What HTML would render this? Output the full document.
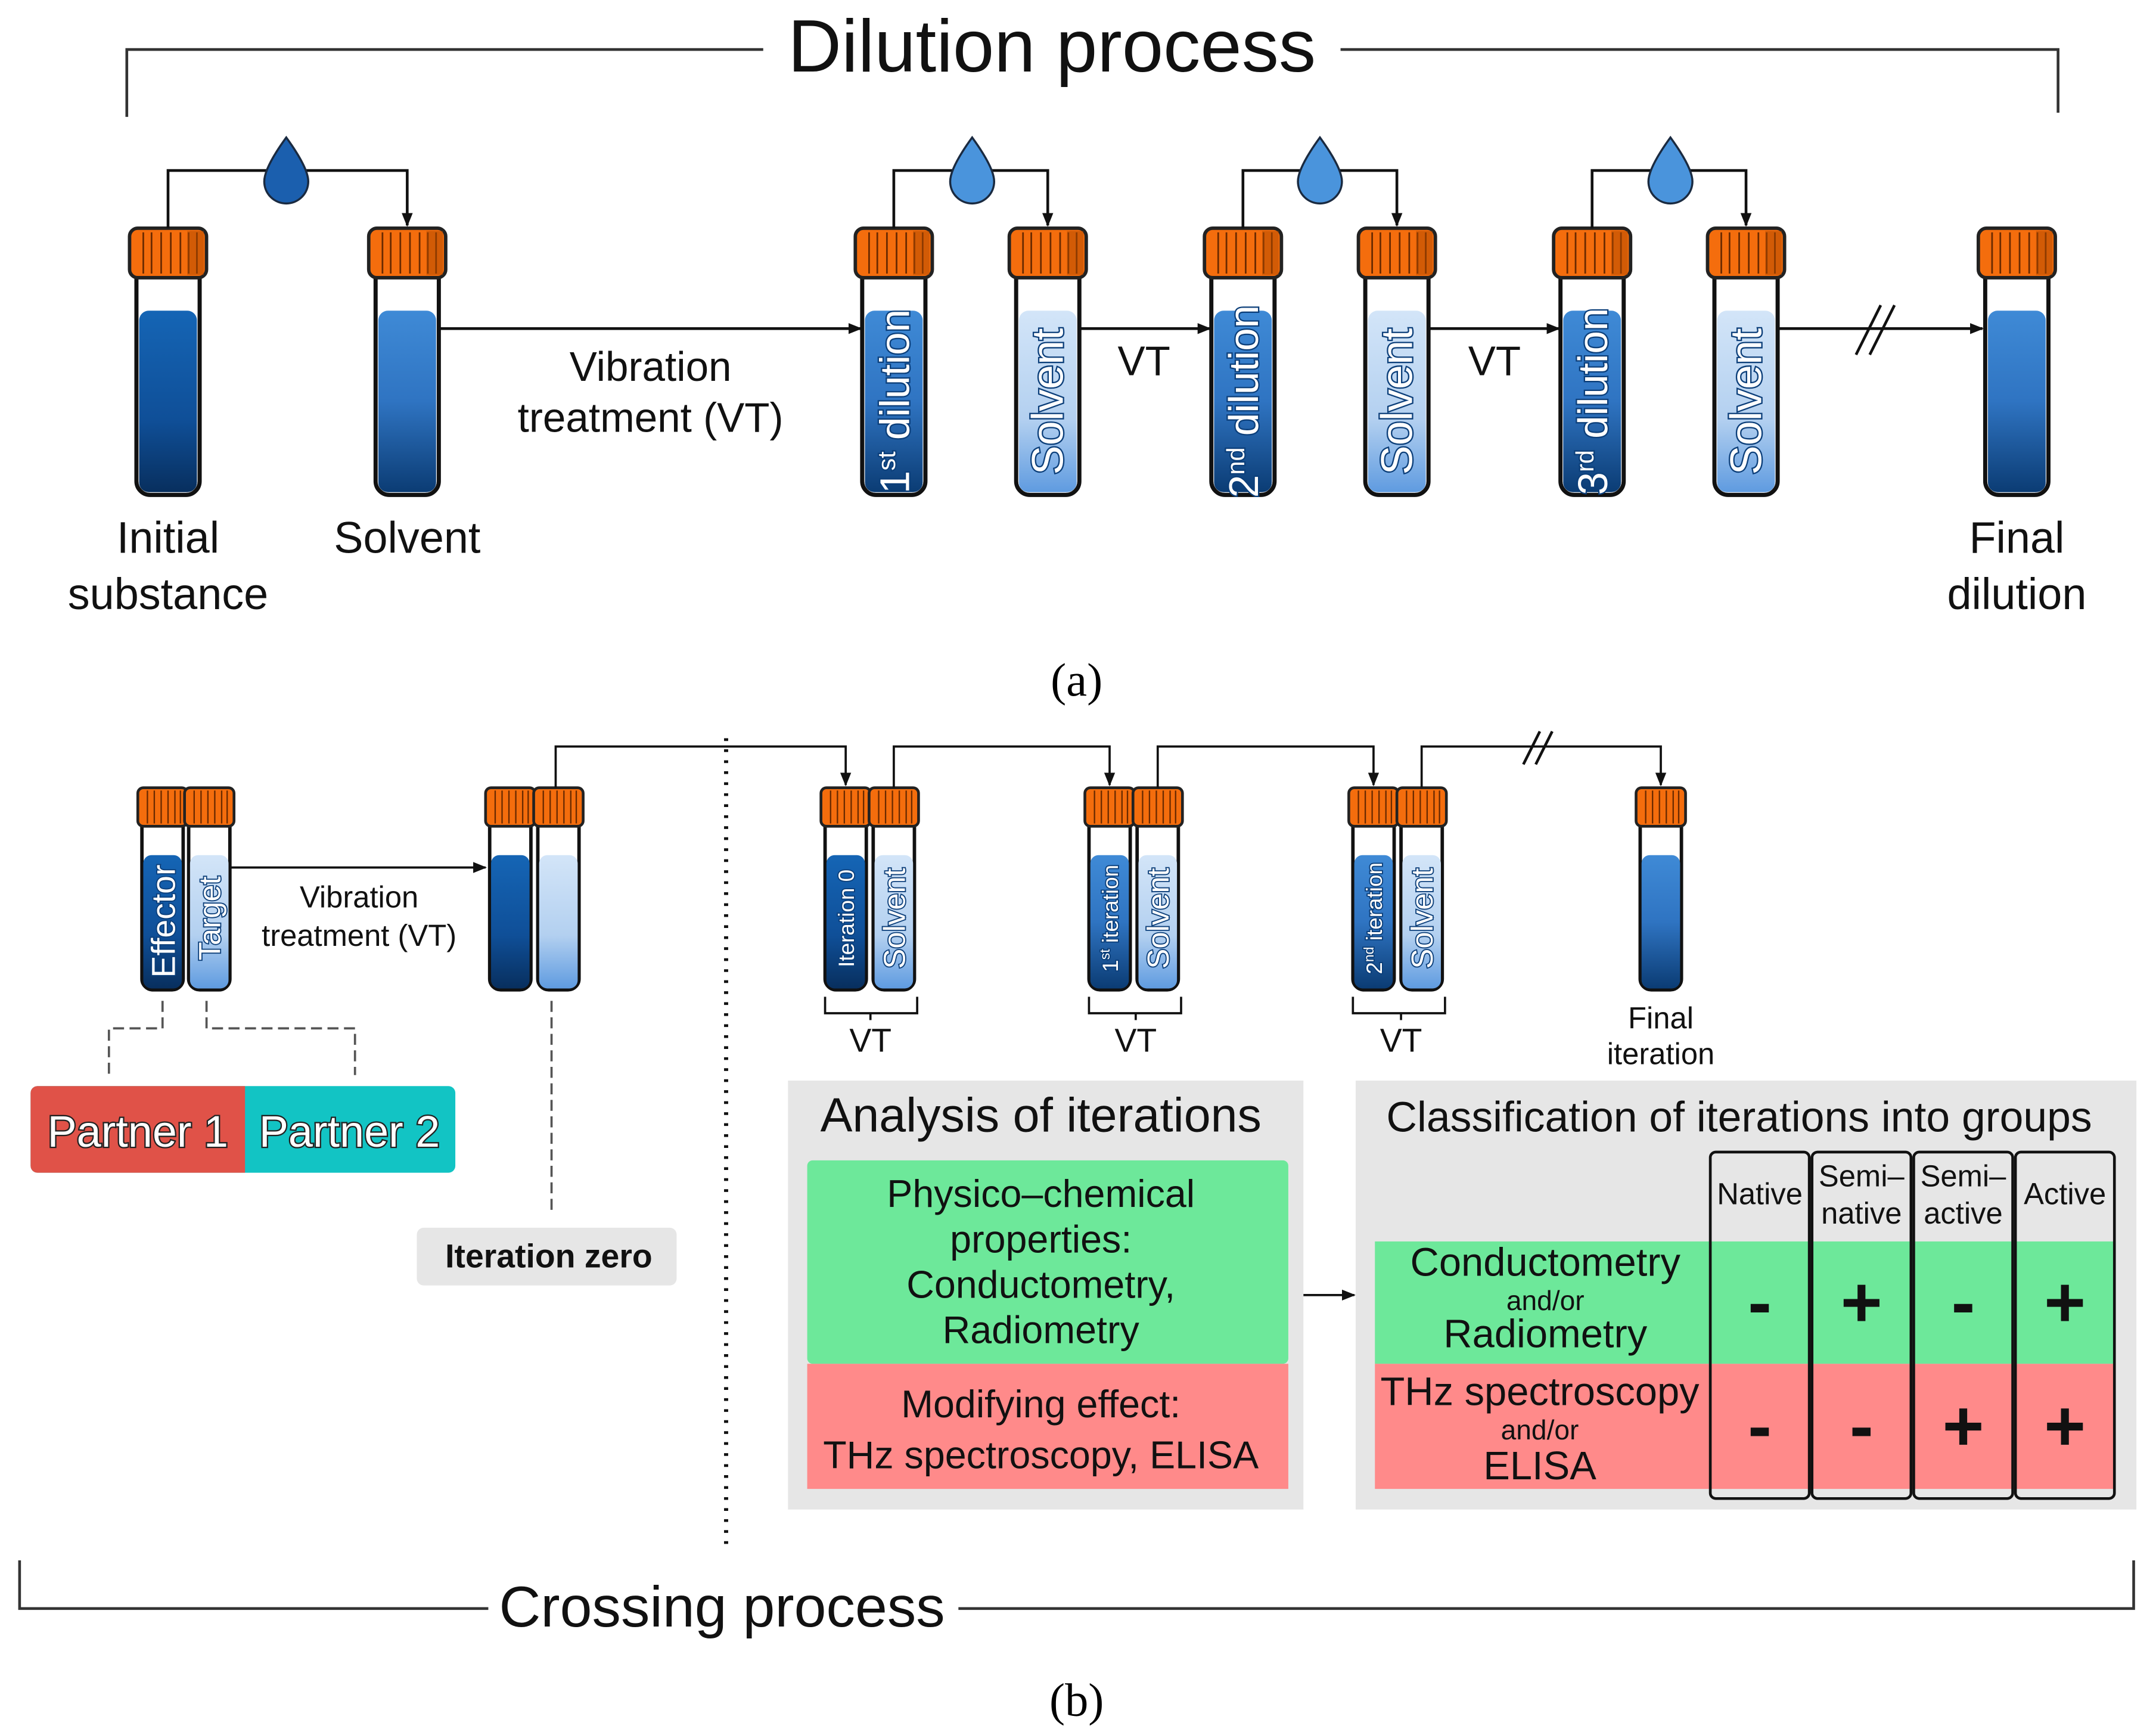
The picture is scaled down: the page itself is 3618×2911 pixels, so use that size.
<!DOCTYPE html>
<html><head><meta charset="utf-8"><style>html,body{margin:0;padding:0;background:#fff}svg{display:block}text{font-family:"Liberation Sans",sans-serif}</style></head><body>
<svg width="3618" height="2911" viewBox="0 0 1568 1262" xmlns="http://www.w3.org/2000/svg">
<defs>
<linearGradient id="dk" x1="0" y1="0" x2="0" y2="1"><stop offset="0" stop-color="#1565b5"/><stop offset="0.6" stop-color="#0f4f98"/><stop offset="1" stop-color="#082f5e"/></linearGradient>
<linearGradient id="lt" x1="0" y1="0" x2="0" y2="1"><stop offset="0" stop-color="#d3e5f8"/><stop offset="0.6" stop-color="#b3d0f0"/><stop offset="1" stop-color="#5f9be0"/></linearGradient>
<linearGradient id="md" x1="0" y1="0" x2="0" y2="1"><stop offset="0" stop-color="#3f8ad6"/><stop offset="0.5" stop-color="#2f74c2"/><stop offset="1" stop-color="#0b3c74"/></linearGradient>
<marker id="ar" markerWidth="10" markerHeight="10" refX="9" refY="5" orient="auto" markerUnits="userSpaceOnUse"><path d="M0,1 L10,5 L0,9 z" fill="#111"/></marker>
<g id="capB"><rect x="-28" y="0" width="56" height="36" rx="6" fill="#f46d0d" stroke="#222" stroke-width="2.5"/><path d="M-18,3V33M-12,3V33M-5,3V33M2,3V33M9,3V33M15,3V33M21,3V33" stroke="#6a2a00" stroke-width="1.2"/><rect x="14" y="2" width="12" height="32" fill="#b04a00" opacity="0.5"/></g>
<g id="capS"><rect x="-18" y="0" width="36" height="28" rx="4" fill="#f46d0d" stroke="#222" stroke-width="2"/><path d="M-11,2V26M-6,2V26M-1,2V26M4,2V26M9,2V26M13,2V26" stroke="#6a2a00" stroke-width="1"/></g>
</defs>
<g stroke="#333" stroke-width="2" fill="none">
<path d="M92,85V36H555M975,36H1497V82"/>
<path d="M14,1135V1170H355M697,1170H1552V1135"/>
</g>
<text x="765" y="52" font-size="54" text-anchor="middle" fill="#111">Dilution process</text>
<text x="525" y="1183" font-size="42" text-anchor="middle" fill="#111">Crossing process</text>
<text x="783" y="506" font-size="34" text-anchor="middle" style="font-family:'Liberation Serif',serif">(a)</text>
<text x="783" y="1248" font-size="34" text-anchor="middle" style="font-family:'Liberation Serif',serif">(b)</text>

<g>
<g transform="translate(122,0)"><path d="M-23,200V350a10,10 0 0 0 10,10H13a10,10 0 0 0 10,-10V200z" fill="#fff" stroke="#111" stroke-width="3"/><rect x="-21" y="226" width="42" height="132" rx="7" fill="url(#dk)"/><use href="#capB" y="166"/></g>
<g transform="translate(296,0)"><path d="M-23,200V350a10,10 0 0 0 10,10H13a10,10 0 0 0 10,-10V200z" fill="#fff" stroke="#111" stroke-width="3"/><rect x="-21" y="226" width="42" height="132" rx="7" fill="url(#md)"/><use href="#capB" y="166"/></g>
<g transform="translate(650,0)"><path d="M-23,200V350a10,10 0 0 0 10,10H13a10,10 0 0 0 10,-10V200z" fill="#fff" stroke="#111" stroke-width="3"/><rect x="-21" y="226" width="42" height="132" rx="7" fill="url(#md)"/><use href="#capB" y="166"/></g>
<g transform="translate(762,0)"><path d="M-23,200V350a10,10 0 0 0 10,10H13a10,10 0 0 0 10,-10V200z" fill="#fff" stroke="#111" stroke-width="3"/><rect x="-21" y="226" width="42" height="132" rx="7" fill="url(#lt)"/><use href="#capB" y="166"/></g>
<g transform="translate(904,0)"><path d="M-23,200V350a10,10 0 0 0 10,10H13a10,10 0 0 0 10,-10V200z" fill="#fff" stroke="#111" stroke-width="3"/><rect x="-21" y="226" width="42" height="132" rx="7" fill="url(#md)"/><use href="#capB" y="166"/></g>
<g transform="translate(1016,0)"><path d="M-23,200V350a10,10 0 0 0 10,10H13a10,10 0 0 0 10,-10V200z" fill="#fff" stroke="#111" stroke-width="3"/><rect x="-21" y="226" width="42" height="132" rx="7" fill="url(#lt)"/><use href="#capB" y="166"/></g>
<g transform="translate(1158,0)"><path d="M-23,200V350a10,10 0 0 0 10,10H13a10,10 0 0 0 10,-10V200z" fill="#fff" stroke="#111" stroke-width="3"/><rect x="-21" y="226" width="42" height="132" rx="7" fill="url(#md)"/><use href="#capB" y="166"/></g>
<g transform="translate(1270,0)"><path d="M-23,200V350a10,10 0 0 0 10,10H13a10,10 0 0 0 10,-10V200z" fill="#fff" stroke="#111" stroke-width="3"/><rect x="-21" y="226" width="42" height="132" rx="7" fill="url(#lt)"/><use href="#capB" y="166"/></g>
<g transform="translate(1467,0)"><path d="M-23,200V350a10,10 0 0 0 10,10H13a10,10 0 0 0 10,-10V200z" fill="#fff" stroke="#111" stroke-width="3"/><rect x="-21" y="226" width="42" height="132" rx="7" fill="url(#md)"/><use href="#capB" y="166"/></g>
</g>
<g font-size="30" fill="#fff" stroke="#0c3f7a" stroke-width="2" paint-order="stroke" text-anchor="middle">
<text transform="translate(661,292) rotate(-90)">1<tspan font-size="18" dy="-10">st</tspan><tspan dy="10"> dilution</tspan></text>
<text transform="translate(773,292) rotate(-90)" font-size="32">Solvent</text>
<text transform="translate(915,292) rotate(-90)">2<tspan font-size="18" dy="-10">nd</tspan><tspan dy="10"> dilution</tspan></text>
<text transform="translate(1027,292) rotate(-90)" font-size="32">Solvent</text>
<text transform="translate(1169,292) rotate(-90)">3<tspan font-size="18" dy="-10">rd</tspan><tspan dy="10"> dilution</tspan></text>
<text transform="translate(1281,292) rotate(-90)" font-size="32">Solvent</text>
</g>
<g stroke="#111" stroke-width="2" fill="none">
<path d="M122,166V124H296V164" marker-end="url(#ar)"/>
<path d="M650,166V124H762V164" marker-end="url(#ar)"/>
<path d="M904,166V124H1016V164" marker-end="url(#ar)"/>
<path d="M1158,166V124H1270V164" marker-end="url(#ar)"/>
<path d="M320,239H626" marker-end="url(#ar)"/>
<path d="M786,239H880" marker-end="url(#ar)"/>
<path d="M1040,239H1134" marker-end="url(#ar)"/>
<path d="M1294,239H1442" marker-end="url(#ar)"/>
<path d="M1350,258L1368,222M1360,258L1378,222"/>
</g>
<g fill="#4a94dc" stroke="#1a2a40" stroke-width="1.5">
<path d="M208,100 Q224,122 224,132 A16,16 0 0 1 192,132 Q192,122 208,100z" fill="#1b5fae"/>
<path d="M707,100 Q723,122 723,132 A16,16 0 0 1 691,132 Q691,122 707,100z"/>
<path d="M960,100 Q976,122 976,132 A16,16 0 0 1 944,132 Q944,122 960,100z"/>
<path d="M1215,100 Q1231,122 1231,132 A16,16 0 0 1 1199,132 Q1199,122 1215,100z"/>
</g>
<g font-size="32" fill="#111" text-anchor="middle">
<text x="122" y="402">Initial</text><text x="122" y="443">substance</text>
<text x="296" y="402">Solvent</text>
<text x="1467" y="402">Final</text><text x="1467" y="443">dilution</text>
<text x="473" y="277" font-size="30">Vibration</text><text x="473" y="314" font-size="30">treatment (VT)</text>
<text x="832" y="273" font-size="30">VT</text><text x="1087" y="273" font-size="30">VT</text>
</g>

<g>
<g transform="translate(118,0)"><path d="M-15,600V712a8,8 0 0 0 8,8H7a8,8 0 0 0 8,-8V600z" fill="#fff" stroke="#111" stroke-width="2.5"/><rect x="-14" y="622" width="28" height="97" rx="6" fill="url(#dk)"/><use href="#capS" y="573"/></g>
<g transform="translate(152,0)"><path d="M-15,600V712a8,8 0 0 0 8,8H7a8,8 0 0 0 8,-8V600z" fill="#fff" stroke="#111" stroke-width="2.5"/><rect x="-14" y="622" width="28" height="97" rx="6" fill="url(#lt)"/><use href="#capS" y="573"/></g>
<g transform="translate(371,0)"><path d="M-15,600V712a8,8 0 0 0 8,8H7a8,8 0 0 0 8,-8V600z" fill="#fff" stroke="#111" stroke-width="2.5"/><rect x="-14" y="622" width="28" height="97" rx="6" fill="url(#dk)"/><use href="#capS" y="573"/></g>
<g transform="translate(406,0)"><path d="M-15,600V712a8,8 0 0 0 8,8H7a8,8 0 0 0 8,-8V600z" fill="#fff" stroke="#111" stroke-width="2.5"/><rect x="-14" y="622" width="28" height="97" rx="6" fill="url(#lt)"/><use href="#capS" y="573"/></g>
<g transform="translate(615,0)"><path d="M-15,600V712a8,8 0 0 0 8,8H7a8,8 0 0 0 8,-8V600z" fill="#fff" stroke="#111" stroke-width="2.5"/><rect x="-14" y="622" width="28" height="97" rx="6" fill="url(#dk)"/><use href="#capS" y="573"/></g>
<g transform="translate(650,0)"><path d="M-15,600V712a8,8 0 0 0 8,8H7a8,8 0 0 0 8,-8V600z" fill="#fff" stroke="#111" stroke-width="2.5"/><rect x="-14" y="622" width="28" height="97" rx="6" fill="url(#lt)"/><use href="#capS" y="573"/></g>
<g transform="translate(807,0)"><path d="M-15,600V712a8,8 0 0 0 8,8H7a8,8 0 0 0 8,-8V600z" fill="#fff" stroke="#111" stroke-width="2.5"/><rect x="-14" y="622" width="28" height="97" rx="6" fill="url(#md)"/><use href="#capS" y="573"/></g>
<g transform="translate(842,0)"><path d="M-15,600V712a8,8 0 0 0 8,8H7a8,8 0 0 0 8,-8V600z" fill="#fff" stroke="#111" stroke-width="2.5"/><rect x="-14" y="622" width="28" height="97" rx="6" fill="url(#lt)"/><use href="#capS" y="573"/></g>
<g transform="translate(999,0)"><path d="M-15,600V712a8,8 0 0 0 8,8H7a8,8 0 0 0 8,-8V600z" fill="#fff" stroke="#111" stroke-width="2.5"/><rect x="-14" y="622" width="28" height="97" rx="6" fill="url(#md)"/><use href="#capS" y="573"/></g>
<g transform="translate(1034,0)"><path d="M-15,600V712a8,8 0 0 0 8,8H7a8,8 0 0 0 8,-8V600z" fill="#fff" stroke="#111" stroke-width="2.5"/><rect x="-14" y="622" width="28" height="97" rx="6" fill="url(#lt)"/><use href="#capS" y="573"/></g>
<g transform="translate(1208,0)"><path d="M-15,600V712a8,8 0 0 0 8,8H7a8,8 0 0 0 8,-8V600z" fill="#fff" stroke="#111" stroke-width="2.5"/><rect x="-14" y="622" width="28" height="97" rx="6" fill="url(#md)"/><use href="#capS" y="573"/></g>
</g>
<g fill="#fff" stroke="#0c3f7a" stroke-width="1.6" paint-order="stroke" text-anchor="middle">
<text transform="translate(127,670) rotate(-90)" font-size="24">Effector</text>
<text transform="translate(160,668) rotate(-90)" font-size="22">Target</text>
<text transform="translate(621,668) rotate(-90)" font-size="16">Iteration 0</text>
<text transform="translate(658,668) rotate(-90)" font-size="22">Solvent</text>
<text transform="translate(813,668) rotate(-90)" font-size="16">1<tspan font-size="10" dy="-6">st</tspan><tspan dy="6"> iteration</tspan></text>
<text transform="translate(850,668) rotate(-90)" font-size="22">Solvent</text>
<text transform="translate(1005,668) rotate(-90)" font-size="16">2<tspan font-size="10" dy="-6">nd</tspan><tspan dy="6"> iteration</tspan></text>
<text transform="translate(1042,668) rotate(-90)" font-size="22">Solvent</text>
</g>
<g stroke="#111" stroke-width="1.6" fill="none">
<path d="M168,631H353" marker-end="url(#ar)"/>
<path d="M404,573V543H615V571" marker-end="url(#ar)"/>
<path d="M650,573V543H807V571" marker-end="url(#ar)"/>
<path d="M842,573V543H999V571" marker-end="url(#ar)"/>
<path d="M1034,573V543H1208V571" marker-end="url(#ar)"/>
<path d="M1108,556L1120,532M1117,556L1129,532" stroke-width="2"/>
<path d="M600,725V737H667V725M633,737V742"/>
<path d="M792,725V737H859V725M826,737V742"/>
<path d="M984,725V737H1051V725M1019,737V742"/>
</g>
<g stroke="#555" stroke-width="1.6" fill="none" stroke-dasharray="8,4">
<path d="M118,728V748H79V782"/><path d="M150,728V748H258V782"/><path d="M401,728V880"/>
</g>
<path d="M528,537V1125" stroke="#111" stroke-width="3" stroke-dasharray="2,6"/>
<g font-size="22" fill="#111" text-anchor="middle">
<text x="261" y="660">Vibration</text><text x="261" y="688">treatment (VT)</text>
<text x="633" y="765" font-size="24">VT</text><text x="826" y="765" font-size="24">VT</text><text x="1019" y="765" font-size="24">VT</text>
<text x="1208" y="748">Final</text><text x="1208" y="774">iteration</text>
</g>
<rect x="22" y="790" width="309" height="63" rx="5" fill="#12c4c4"/>
<path d="M27,790H178V853H27a5,5 0 0 1 -5,-5V795a5,5 0 0 1 5,-5z" fill="#e05248"/>
<g font-size="32" fill="#fff" stroke="#222" stroke-width="2" paint-order="stroke" text-anchor="middle"><text x="100" y="834">Partner 1</text><text x="254" y="834">Partner 2</text></g>
<rect x="303" y="893" width="189" height="42" rx="5" fill="#e6e6e6"/>
<text x="399" y="922" font-size="24" font-weight="bold" text-anchor="middle" fill="#111">Iteration zero</text>

<rect x="573" y="786" width="375" height="312" fill="#e6e6e6"/>
<text x="757" y="823" font-size="35" text-anchor="middle" fill="#111">Analysis of iterations</text>
<rect x="587" y="844" width="350" height="148" rx="4" fill="#6de89a"/>
<rect x="587" y="992" width="350" height="91" fill="#ff8a8a"/>
<g font-size="28" fill="#111" text-anchor="middle">
<text x="757" y="878">Physico–chemical</text><text x="757" y="911">properties:</text><text x="757" y="944">Conductometry,</text><text x="757" y="977">Radiometry</text>
<text x="757" y="1031">Modifying effect:</text><text x="757" y="1068">THz spectroscopy, ELISA</text>
</g>
<path d="M948,942H985" stroke="#111" stroke-width="1.6" marker-end="url(#ar)"/>
<rect x="986" y="786" width="568" height="312" fill="#e6e6e6"/>
<text x="1265" y="823" font-size="31" text-anchor="middle" fill="#111">Classification of iterations into groups</text>
<rect x="1000" y="903" width="538" height="89" fill="#6de89a"/>
<rect x="1000" y="992" width="538" height="91" fill="#ff8a8a"/>
<g fill="none" stroke="#111" stroke-width="2">
<rect x="1244" y="838" width="72" height="252" rx="4"/><rect x="1318" y="838" width="72" height="252" rx="4"/><rect x="1392" y="838" width="72" height="252" rx="4"/><rect x="1466" y="838" width="72" height="252" rx="4"/>
</g>
<g font-size="22" fill="#111" text-anchor="middle">
<text x="1280" y="876">Native</text><text x="1354" y="863">Semi–</text><text x="1354" y="890">native</text><text x="1428" y="863">Semi–</text><text x="1428" y="890">active</text><text x="1502" y="876">Active</text>
<text x="1124" y="928" font-size="29">Conductometry</text><text x="1124" y="953" font-size="20">and/or</text><text x="1124" y="980" font-size="29">Radiometry</text>
<text x="1120" y="1022" font-size="29">THz spectroscopy</text><text x="1120" y="1047" font-size="20">and/or</text><text x="1120" y="1076" font-size="29">ELISA</text>
</g>
<g font-size="52" font-weight="bold" fill="#111" text-anchor="middle">
<text x="1280" y="965">-</text><text x="1354" y="965">+</text><text x="1428" y="965">-</text><text x="1502" y="965">+</text>
<text x="1280" y="1055">-</text><text x="1354" y="1055">-</text><text x="1428" y="1055">+</text><text x="1502" y="1055">+</text>
</g>
</svg>
</body></html>
